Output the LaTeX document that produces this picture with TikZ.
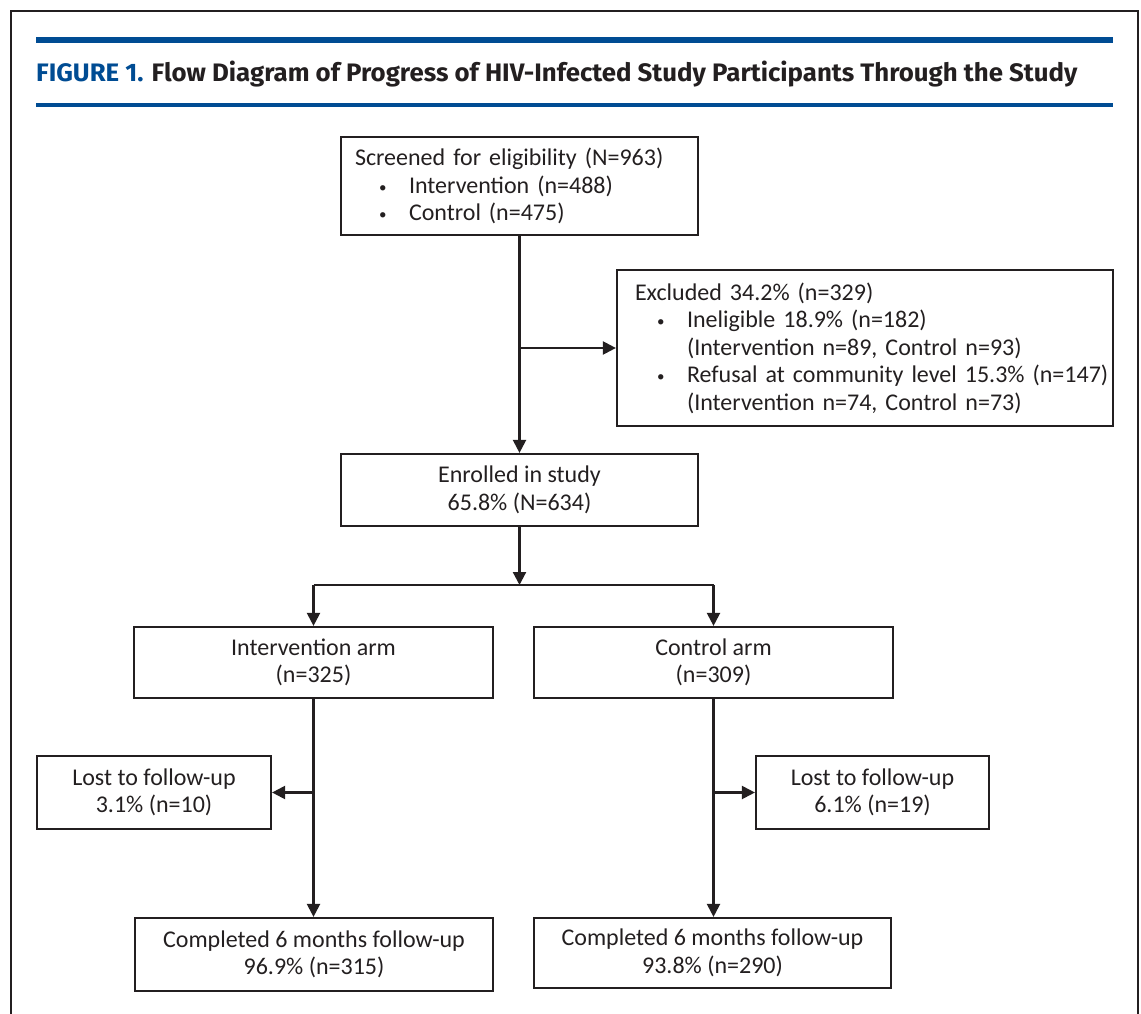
\documentclass[tikz,border=0pt]{standalone}
\usepackage{fontspec}
\setmainfont{Carlito}
\newfontfamily\titlefont{Fira Sans}
\usetikzlibrary{arrows.meta}
\definecolor{jblue}{RGB}{0,76,147}
\definecolor{ink}{RGB}{35,31,32}
\newcommand{\bitem}[2]{\mbox{\hspace*{#1}\makebox[30pt][l]{\raisebox{1pt}{\fontsize{15}{15}\selectfont\textbullet}}#2}}
\begin{document}
\begin{tikzpicture}[x=1pt,y=-1pt,
  box/.style={draw=ink,line width=2.2pt,rectangle,inner sep=0pt,text=ink,
    font=\fontsize{24}{27.5}\selectfont,align=center},
  conn/.style={draw=ink,line width=2.2pt},
  arr/.style={conn,-{Triangle[length=13pt,width=13pt]}}]
\useasboundingbox (0,0) rectangle (1141,1014);
% frame
\draw[ink,line width=2.6pt] (11,1016) -- (11,11) -- (1138,11) -- (1138,1016);
% title bars
\fill[jblue] (36,37) rectangle (1113,43.5);
\fill[jblue] (36,103.5) rectangle (1113,107);
\node[anchor=base west,inner sep=0pt] (title) at (36,82)
  {\resizebox{1041pt}{20.5pt}{\titlefont\bfseries\textcolor{jblue}{FIGURE 1.} \textcolor{ink}{Flow Diagram of Progress of HIV-Infected Study Participants Through the Study}}};
% boxes
\node[box,minimum width=357pt,minimum height=98pt,align=left,text width=329pt] (scr) at (519.5,186)
  {\mbox{Screened for eligibility (N=963)}\\
   \bitem{24pt}{Intervention (n=488)}\\
   \bitem{24pt}{Control (n=475)}};
\node[box,minimum width=496pt,minimum height=156pt,align=left,text width=460pt] (exc) at (865,348)
  {\mbox{Excluded 34.2\% (n=329)}\\
   \bitem{22pt}{Ineligible 18.9\% (n=182)}\\
   \mbox{\hspace*{52pt}(Intervention n=89, Control n=93)}\\
   \bitem{22pt}{Refusal at community level 15.3\% (n=147)}\\
   \mbox{\hspace*{52pt}(Intervention n=74, Control n=73)}};
\node[box,minimum width=357pt,minimum height=72pt] (enr) at (519.5,490)
  {Enrolled in study\\65.8\% (N=634)};
\node[box,minimum width=359pt,minimum height=71pt] (intv) at (313.5,662.5)
  {Intervention arm\\(n=325)};
\node[box,minimum width=359pt,minimum height=71pt] (ctrl) at (713.5,662.5)
  {Control arm\\(n=309)};
\node[box,minimum width=234pt,minimum height=73pt] (lostl) at (154,792.5)
  {Lost to follow-up\\3.1\% (n=10)};
\node[box,minimum width=233pt,minimum height=73pt] (lostr) at (872.5,792.5)
  {Lost to follow-up\\6.1\% (n=19)};
\node[box,minimum width=358pt,minimum height=73pt] (coml) at (314,954.5)
  {Completed 6 months follow-up\\96.9\% (n=315)};
\node[box,minimum width=357pt,minimum height=70pt] (comr) at (712.5,953)
  {Completed 6 months follow-up\\93.8\% (n=290)};
% connectors
\draw[arr] (scr.south) -- (enr.north);
\coordinate (j1) at (scr.south |- exc.west);
\draw[arr] (j1) -- (exc.west);
\coordinate (br) at (enr.south |- 0,585);
\coordinate (brl) at (intv.north |- br);
\coordinate (brr) at (ctrl.north |- br);
\draw[arr] (enr.south) -- (br);
\draw[conn] (brl) -- (brr);
\draw[arr] (brl) -- (intv.north);
\draw[arr] (brr) -- (ctrl.north);
\coordinate (jl) at (intv.south |- lostl.east);
\coordinate (jr) at (ctrl.south |- lostr.west);
\draw[arr] (intv.south) -- (intv.south |- coml.north);
\draw[arr] (ctrl.south) -- (ctrl.south |- comr.north);
\draw[arr] (jl) -- (lostl.east);
\draw[arr] (jr) -- (lostr.west);
\end{tikzpicture}
\end{document}
